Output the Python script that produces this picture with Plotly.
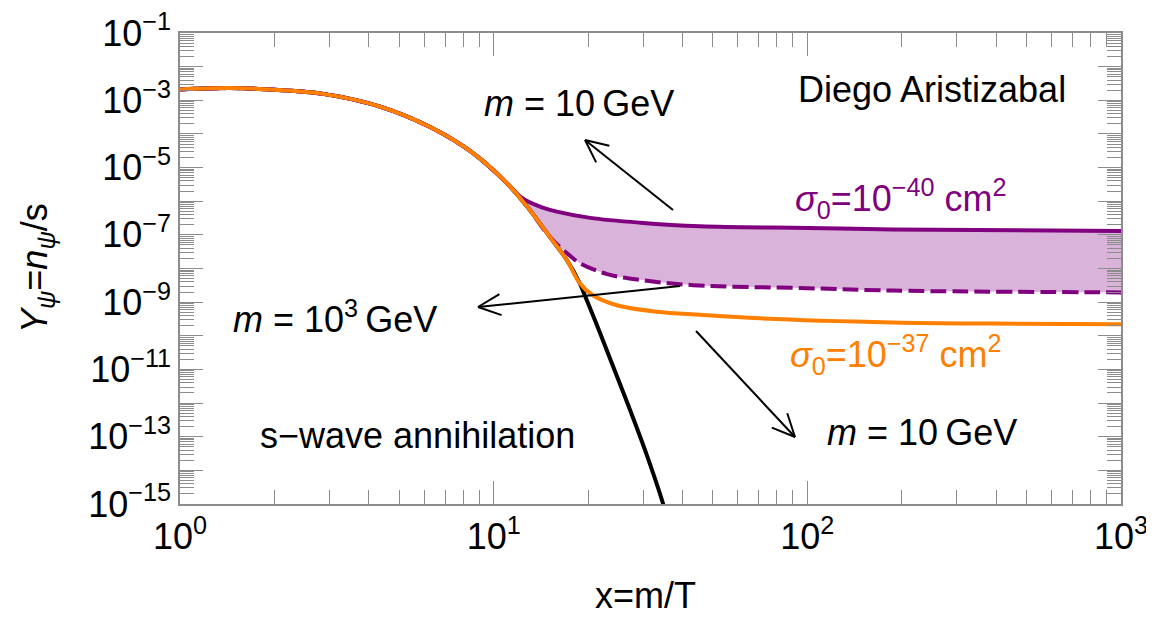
import math
import plotly.graph_objects as go

# ---------------- data ----------------
x_orange = [1.0, 1.44, 2.0, 2.86, 4.34, 6.27, 8.59, 11.0, 12.8, 15.1, 17.1, 18.8,
            20.7, 24.7, 33.2, 45.5, 70.7, 187.5, 392.0, 1000.0]
y_orange = [2.1e-3, 2.3e-3, 2.05e-3, 1.55e-3, 6.5e-4, 1.6e-4, 2.7e-5, 3.5e-6, 6.8e-7,
            8.7e-8, 1.8e-8, 3.7e-9, 1.6e-9, 8.1e-10, 5.2e-10, 4.2e-10, 3.3e-10,
            2.5e-10, 2.3e-10, 2.2e-10]

x_purple = [1.0, 1.44, 2.0, 2.86, 4.34, 6.27, 8.59, 11.0, 12.3, 14.05, 15.9, 20.3,
            29.3, 45.5, 100.0, 187.5, 1000.0]
y_purple = [2.1e-3, 2.3e-3, 2.05e-3, 1.55e-3, 6.5e-4, 1.6e-4, 2.7e-5, 3.5e-6, 1.26e-6,
            6.9e-7, 4.9e-7, 3.2e-7, 2.3e-7, 1.8e-7, 1.6e-7, 1.45e-7, 1.3e-7]

x_dashed = [1.0, 1.44, 2.0, 2.86, 4.34, 6.27, 8.59, 11.0, 12.8, 15.1, 17.1, 18.8,
            23.0, 29.3, 43.2, 100.0, 187.5, 1000.0]
y_dashed = [2.1e-3, 2.3e-3, 2.05e-3, 1.55e-3, 6.5e-4, 1.6e-4, 2.7e-5, 3.5e-6, 6.8e-7,
            8.7e-8, 2.9e-8, 1.45e-8, 6.8e-9, 4.6e-9, 3.2e-9, 2.6e-9, 2.2e-9, 1.95e-9]

x_black = [1.0, 1.44, 2.0, 2.86, 4.34, 6.27, 8.59, 11.0, 12.8, 15.1, 17.1, 18.8,
           19.8, 21.8, 24.0, 27.2, 30.8, 34.7, 35.6]
y_black = [2.1e-3, 2.3e-3, 2.05e-3, 1.55e-3, 6.5e-4, 1.6e-4, 2.7e-5, 3.5e-6, 6.8e-7,
           8.7e-8, 1.8e-8, 3.7e-9, 1.15e-9, 1.26e-10, 1.26e-11, 6.3e-13, 2.8e-14,
           1.0e-15, 4.0e-16]

x_tickvals = [1, 10, 100, 1000]
x_ticktext = ["10<sup>0</sup>", "10<sup>1</sup>", "10<sup>2</sup>", "10<sup>3</sup>"]
y_exponents = list(range(-15, 0))
y_tickvals = [10.0 ** e for e in y_exponents]
y_ticktext = [("10<sup>\u2212%d</sup>" % (-e)) if e % 2 != 0 else "" for e in y_exponents]

# ---------------- styling ----------------
OFF = 8  # default page (body) margin of the html page
W, H = 1154, 618
SL, SR, ST, SB = 180, 1121, 33, 504          # plot box in screen pixels
L, T = SL - OFF, ST - OFF
R = W - (SR - OFF)
B = H - (SB - OFF)
PW, PH = SR - SL, SB - ST
FONT = "Liberation Sans, Arial, Helvetica, sans-serif"
ORANGE = "rgb(255,128,0)"
PURPLE = "rgb(128,0,128)"
FILL = "rgb(217,179,217)"
AXCOL = "rgb(140,140,140)"


def px(xs, ys):
    """screen pixel -> paper coordinates"""
    return (xs - SL) / PW, (SB - ys) / PH


fig = go.Figure()

# filled band between the two purple curves
fig.add_trace(go.Scatter(x=x_dashed, y=y_dashed, mode="lines",
                         line=dict(width=0, shape="spline", color=FILL),
                         hoverinfo="skip", showlegend=False))
fig.add_trace(go.Scatter(x=x_purple, y=y_purple, mode="lines", fill="tonexty",
                         fillcolor=FILL, line=dict(width=0, shape="spline", color=FILL),
                         hoverinfo="skip", showlegend=False))

fig.add_trace(go.Scatter(x=x_black, y=y_black, mode="lines",
                         line=dict(color="black", width=4, shape="spline"), showlegend=False))
fig.add_trace(go.Scatter(x=x_purple, y=y_purple, mode="lines",
                         line=dict(color=PURPLE, width=4, shape="spline"), showlegend=False))
fig.add_trace(go.Scatter(x=x_dashed, y=y_dashed, mode="lines",
                         line=dict(color=PURPLE, width=4, shape="spline", dash="16px,6px"),
                         showlegend=False))
fig.add_trace(go.Scatter(x=x_orange, y=y_orange, mode="lines",
                         line=dict(color=ORANGE, width=4, shape="spline"), showlegend=False))

x_minor = [k * 10.0 ** n for n in range(0, 3) for k in range(2, 10)]
y_minor = [k * 10.0 ** n for n in range(-15, -1) for k in range(2, 10)]

common_axis = dict(type="log", showgrid=False, zeroline=False, showline=True,
                   linecolor=AXCOL, linewidth=1.5, mirror="ticks", ticks="inside",
                   ticklen=23, tickwidth=1.2, tickcolor=AXCOL, automargin=False,
                   ticklabeloverflow="allow",
                   tickfont=dict(family=FONT, size=36, color="black"))

fig.update_xaxes(range=[0, 3], tickmode="array", tickvals=x_tickvals, ticktext=x_ticktext,
                 minor=dict(tickmode="array", tickvals=x_minor, ticks="inside", ticklen=14,
                            tickwidth=1.2, tickcolor=AXCOL, showgrid=False),
                 **common_axis)
fig.update_yaxes(range=[-15, -1], tickmode="array", tickvals=y_tickvals, ticktext=y_ticktext,
                 minor=dict(tickmode="array", tickvals=y_minor, ticks="inside", ticklen=14,
                            tickwidth=1.2, tickcolor=AXCOL, showgrid=False),
                 **common_axis)

annotations = []


def add_text(text, cx, cy, color="black", size=36, angle=0):
    xp, yp = px(cx, cy)
    annotations.append(dict(text=text, x=xp, y=yp, xref="paper", yref="paper",
                            showarrow=False, xanchor="center", yanchor="middle",
                            textangle=angle,
                            font=dict(family=FONT, size=size, color=color)))


add_text("Diego Aristizabal", 932, 90)
add_text("<i>m</i> = 10\u2009GeV", 579, 104)
add_text("<i>\u03c3</i><sub>0</sub>=10<sup>\u221240</sup> cm<sup>2</sup>", 901, 198, color=PURPLE)
add_text("<i>\u03c3</i><sub>0</sub>=10<sup>\u221237</sup> cm<sup>2</sup>", 896, 354, color=ORANGE)
add_text("<i>m</i> = 10\u2009GeV", 922, 432)
add_text("<i>m</i> = 10<sup>3</sup>\u2009GeV", 335, 317)
add_text("s\u2212wave annihilation", 417, 435)
add_text("x=m/T", 645, 595)
add_text("<i>Y</i><sub><i>\u03c8</i></sub>=<i>n</i><sub><i>\u03c8</i></sub>/s", 37, 268, angle=-90)

shapes = []


def add_arrow(tail, head, arm=25.0, half=25.0):
    x0, y0 = px(*tail)
    x1, y1 = px(*head)
    shapes.append(dict(type="line", xref="paper", yref="paper", x0=x0, y0=y0, x1=x1, y1=y1,
                       line=dict(color="black", width=2)))
    dx, dy = tail[0] - head[0], tail[1] - head[1]
    ang = math.atan2(dy, dx)
    for s in (-1, 1):
        a = ang + s * math.radians(half)
        ex, ey = head[0] + arm * math.cos(a), head[1] + arm * math.sin(a)
        ax0, ay0 = px(ex, ey)
        shapes.append(dict(type="line", xref="paper", yref="paper", x0=x1, y0=y1,
                           x1=ax0, y1=ay0, line=dict(color="black", width=2)))


add_arrow((673, 210), (585, 140))
add_arrow((680, 286), (478, 307))
add_arrow((696, 331), (795, 437))

fig.update_layout(width=W, height=H, autosize=False,
                  margin=dict(l=L, r=R, t=T, b=B, pad=0),
                  plot_bgcolor="white", paper_bgcolor="white",
                  annotations=annotations, shapes=shapes, showlegend=False)

fig.write_html("out.html")
